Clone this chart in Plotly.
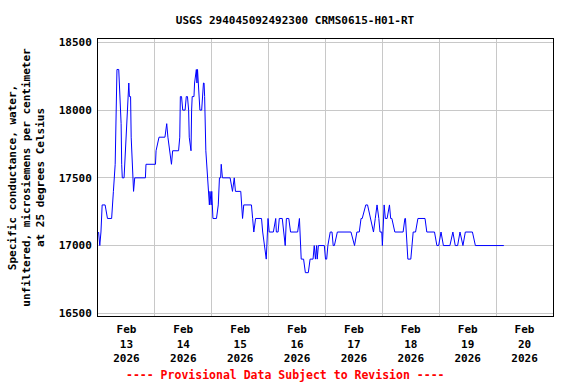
import pandas as pd
import plotly.graph_objects as go

# Hours after 2026-02-13 00:00 and specific conductance values (uS/cm)
hours_d1 = [0.25, 0.75, 1.25, 1.75, 3.0, 4.0, 5.75, 6.0, 6.5, 7.25, 7.75, 8.0, 8.75, 9.0, 9.75, 10.0, 10.25,
            11.0, 11.25, 11.5, 12.0, 12.25, 12.5, 13.0, 13.25, 13.75, 14.0, 14.25, 14.75, 15.0, 15.5, 20.0, 20.25]
vals_d1 = [17100, 17000, 17100, 17300, 17300, 17200, 17200, 17300, 17400, 17600, 18100, 18300, 18300, 18200, 17900, 17600, 17500,
           17500, 17600, 17700, 17800, 17900, 18100, 18200, 18100, 18100, 17800, 17700, 17500, 17400, 17500, 17500, 17600]

hours_d2 = [24.25, 24.5, 25.75, 28.25, 28.75, 29.0, 29.5, 30.25, 31.0, 31.5, 34.0, 34.5, 34.75, 35.25, 35.75, 36.75,
            37.25, 37.75, 38.25, 38.5, 39.25, 39.5, 39.75, 40.5, 40.75, 41.5, 41.75, 42.0, 42.25, 42.75, 43.0, 43.75,
            44.0, 44.5, 44.75, 45.0, 45.5, 46.25, 46.5, 47.0, 47.25, 47.75]
vals_d2 = [17600, 17700, 17800, 17800, 17900, 17900, 17800, 17700, 17600, 17700, 17700, 17800, 18100, 18100, 18000, 18000,
           18100, 18100, 18000, 17800, 17700, 18000, 18100, 18100, 18200, 18300, 18200, 18300, 18200, 18100, 18000, 18000,
           18100, 18200, 18200, 18100, 17700, 17500, 17400, 17300, 17400, 17300]

hours_d3 = [48.0, 48.5, 50.0, 50.75, 51.25, 51.75, 52.0, 52.5, 55.75, 56.5, 56.75, 57.5, 58.0, 60.25, 60.75, 61.0,
            61.5, 64.75, 65.25, 65.75, 66.5, 69.0, 69.5, 70.25, 70.75, 71.0, 71.5, 71.75]
vals_d3 = [17400, 17200, 17200, 17300, 17500, 17500, 17600, 17500, 17500, 17400, 17400, 17500, 17400, 17400, 17300, 17200,
           17300, 17300, 17200, 17100, 17200, 17200, 17100, 17000, 16900, 16900, 17100, 17200]

hours_d4 = [72.25, 74.0, 75.0, 75.25, 76.0, 76.5, 77.75, 78.25, 79.0, 79.5, 80.5, 81.25, 84.25, 85.0, 85.25, 85.75,
            86.75, 87.5, 88.75, 89.5, 90.75, 91.25, 91.75, 92.25, 92.5, 93.0, 95.5]
vals_d4 = [17100, 17100, 17200, 17100, 17100, 17200, 17200, 17100, 17000, 17200, 17200, 17100, 17100, 17200, 17100, 16900,
           16900, 16800, 16800, 16900, 16900, 17000, 16900, 17000, 16900, 17000, 17000]

hours_d5 = [96.0, 96.5, 97.0, 98.0, 98.75, 99.25, 99.75, 101.0, 106.75, 108.25, 109.25, 110.25, 111.0, 111.5, 113.0,
            113.75, 115.0, 116.0, 116.25, 117.0, 117.5, 117.75, 118.5, 119.0, 119.75]
vals_d5 = [16900, 16900, 17000, 17100, 17100, 17000, 17000, 17100, 17100, 17000, 17100, 17100, 17200, 17200, 17300,
           17300, 17200, 17100, 17100, 17200, 17300, 17300, 17200, 17100, 17100]

hours_d6 = [120.0, 120.75, 121.25, 122.0, 123.0, 123.5, 124.0, 125.25, 128.75, 129.5, 129.75, 130.75, 132.0, 132.5,
            133.0, 134.0, 135.0, 138.0, 138.75, 142.0, 143.0, 143.75]
vals_d6 = [17000, 17300, 17200, 17200, 17300, 17200, 17200, 17100, 17100, 17200, 17200, 16900, 16900, 17000,
           17100, 17100, 17200, 17200, 17100, 17100, 17000, 17000]

hours_d7 = [144.75, 145.75, 148.5, 149.75, 150.75, 151.75, 152.75, 154.0, 155.0, 158.0, 159.25, 171.25]
vals_d7 = [17100, 17000, 17000, 17100, 17000, 17000, 17100, 17000, 17100, 17100, 17000, 17000]

start = pd.Timestamp("2026-02-13 00:00")
hours = hours_d1 + hours_d2 + hours_d3 + hours_d4 + hours_d5 + hours_d6 + hours_d7
values = vals_d1 + vals_d2 + vals_d3 + vals_d4 + vals_d5 + vals_d6 + vals_d7
times = [start + pd.Timedelta(hours=h) for h in hours]

day_labels = ["Feb<br>13<br>2026", "Feb<br>14<br>2026", "Feb<br>15<br>2026", "Feb<br>16<br>2026",
              "Feb<br>17<br>2026", "Feb<br>18<br>2026", "Feb<br>19<br>2026", "Feb<br>20<br>2026"]
label_pos = [start + pd.Timedelta(hours=12 + 24 * i) for i in range(len(day_labels))]
y_ticks = [16500, 17000, 17500, 18000, 18500]

FONT = "DejaVu Sans Mono"

fig = go.Figure()
fig.add_trace(go.Scatter(x=times, y=values, mode="lines",
                         line=dict(color="#0000FF", width=1), hoverinfo="skip"))

fig.update_layout(
    width=576, height=384,
    paper_bgcolor="white", plot_bgcolor="white",
    margin=dict(l=98, r=23, t=39, b=68, autoexpand=False),
    showlegend=False,
    font=dict(family=FONT, size=11, color="black", weight="bold"),
    title=dict(text="USGS 294045092492300 CRMS0615-H01-RT", x=295 / 576, xanchor="center",
               y=1 - 20.5 / 384, yanchor="middle", yref="container",
               font=dict(family=FONT, size=11, color="black", weight="bold")),
)

fig.update_xaxes(
    type="date", automargin=False,
    range=[start, start + pd.Timedelta(days=8)],
    tickmode="array", tickvals=label_pos, ticktext=day_labels,
    showgrid=False, ticks="", ticklabelstandoff=3,
    tickfont=dict(family=FONT, size=11, color="black", weight="bold"),
    showline=True, mirror=True, linecolor="black", linewidth=1,
    zeroline=False,
    minor=dict(tick0=start, dtick=86400000, showgrid=True, gridcolor="#C8C8C8", gridwidth=1, ticks=""),
)

fig.update_yaxes(
    automargin=False,
    range=[16480, 18525],
    tickmode="array", tickvals=y_ticks, ticktext=[str(v) for v in y_ticks],
    showgrid=True, gridcolor="#C8C8C8", gridwidth=1,
    ticks="", zeroline=False, ticklabelstandoff=3,
    tickfont=dict(family=FONT, size=11, color="black", weight="bold"),
    showline=True, mirror=True, linecolor="black", linewidth=1,
    title=dict(text="Specific conductance, water,<br>unfiltered, microsiemens per centimeter<br>at 25 degrees Celsius",
               font=dict(family=FONT, size=11, color="black", weight="bold"), standoff=11),
)

fig.add_annotation(text="---- Provisional Data Subject to Revision ----",
                   xref="paper", yref="paper", x=(285.5 - 98) / 455, y=-(375 - 316) / 277,
                   xanchor="center", yanchor="middle", showarrow=False,
                   font=dict(family=FONT, size=11.5, color="#FF0000", weight="bold"))

fig.write_html("out.html", config={"displayModeBar": False},
               post_script="document.body.style.margin='0';document.body.style.overflow='hidden';")
